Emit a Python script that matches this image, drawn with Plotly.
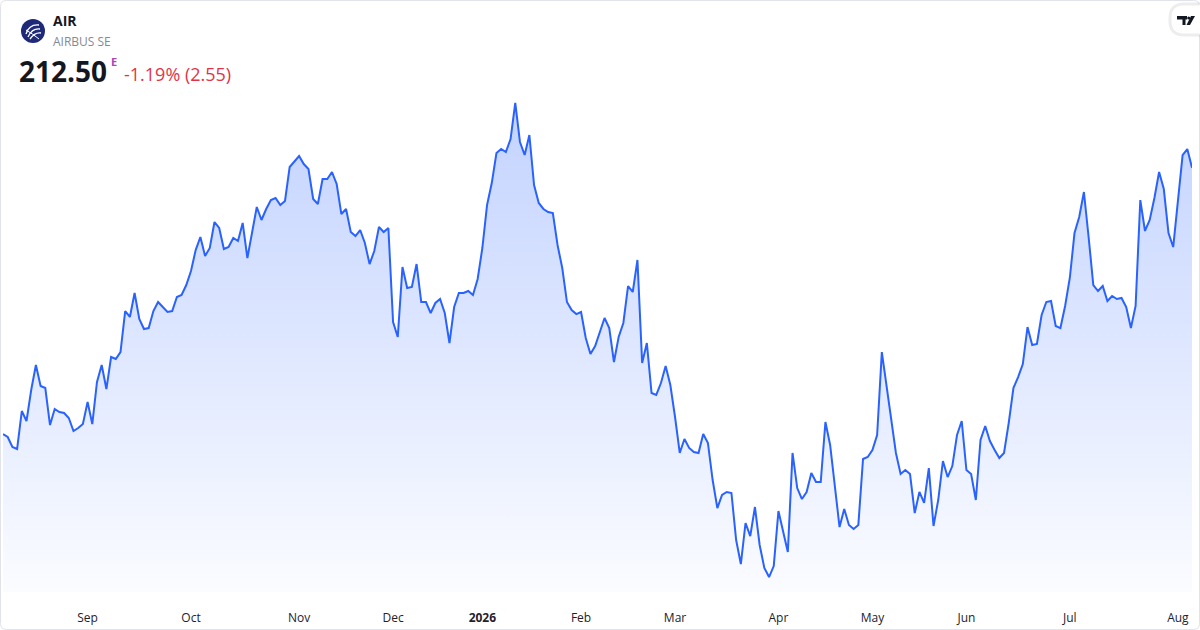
import pandas as pd
import plotly.graph_objects as go

# AIR (Airbus SE) daily closes, Euronext trading days 6 Aug 2025 - 6 Aug 2026
start_date = "2025-08-06"
end_date = "2026-08-06"
holidays = ["2025-12-24", "2025-12-25", "2025-12-26", "2025-12-31",
            "2026-01-01", "2026-04-03", "2026-04-06", "2026-05-01"]

prices = [
    176.18, 175.77, 174.40, 174.13, 179.31, 177.95, 182.18, 185.59, 182.72, 182.45,
    177.40, 179.59, 179.18, 179.04, 178.36, 176.59, 177.00, 177.54, 180.54, 177.54,
    183.27, 185.59, 182.31, 186.68, 186.41, 187.36, 192.95, 192.14, 195.41, 191.86,
    190.50, 190.63, 192.95, 194.18, 193.50, 192.82, 192.95, 194.86, 195.14, 196.50,
    198.41, 201.27, 203.05, 200.46, 201.55, 205.09, 204.28, 201.41, 201.68, 202.91,
    202.50, 204.96, 200.18, 203.46, 207.14, 205.37, 206.87, 208.09, 208.37, 207.41,
    207.96, 212.60, 213.41, 214.10, 213.00, 212.32, 208.23, 207.55, 210.96, 210.96,
    211.91, 210.28, 206.18, 206.87, 203.73, 203.18, 204.00, 202.23, 199.36, 201.14,
    204.41, 203.73, 204.28, 191.45, 189.41, 198.96, 196.09, 196.23, 199.36, 194.18,
    194.18, 192.68, 194.05, 194.59, 192.68, 188.59, 193.50, 195.41, 195.41, 195.68,
    195.14, 197.32, 201.55, 207.41, 210.41, 214.50, 215.05, 214.64, 216.41, 221.33,
    216.01, 214.23, 216.96, 210.14, 207.69, 206.87, 206.46, 206.32, 201.96, 198.82,
    194.18, 193.09, 192.54, 192.82, 189.27, 187.09, 188.18, 190.09, 192.00, 190.63,
    186.00, 189.41, 191.32, 196.36, 195.55, 199.91, 185.86, 188.59, 181.77, 181.50,
    183.13, 185.45, 182.86, 178.50, 173.59, 175.49, 174.27, 173.72, 173.59, 176.18,
    174.95, 169.90, 166.08, 167.86, 168.27, 168.13, 161.72, 158.44, 164.04, 162.26,
    166.22, 161.04, 157.90, 156.67, 158.17, 165.67, 162.81, 160.08, 173.59, 168.81,
    167.31, 168.27, 170.86, 169.63, 169.63, 177.81, 174.68, 168.95, 163.49, 165.95,
    163.76, 163.22, 163.76, 172.77, 173.04, 173.99, 176.04, 187.36, 182.59, 178.36,
    173.59, 170.72, 171.27, 170.72, 165.40, 168.27, 166.77, 171.54, 163.63, 167.17,
    172.49, 170.31, 171.81, 176.04, 177.95, 171.27, 170.72, 167.17, 175.36, 177.27,
    175.22, 173.99, 172.90, 173.59, 177.68, 182.45, 183.95, 185.72, 190.77, 188.32,
    188.45, 192.41, 194.18, 194.32, 190.91, 190.63, 193.64, 197.46, 203.59, 205.78,
    209.19, 203.05, 196.50, 195.68, 196.36, 194.32, 195.00, 194.59, 194.73, 193.50,
    190.63, 193.64, 208.09, 203.87, 205.37, 208.37, 211.91, 209.59, 203.59, 201.68,
    208.09, 214.23, 215.05, 212.50,
]

tick_labels = ["Sep", "Oct", "Nov", "Dec", "<b>2026</b>", "Feb",
               "Mar", "Apr", "May", "Jun", "Jul", "Aug"]

ticker = "AIR"
company = "AIRBUS SE"
last_price = "212.50"
change_text = "-1.19% (2.55)"

dates = [d.strftime("%Y-%m-%d") for d in pd.bdate_range(start_date, end_date)]
dates = [d for d in dates if d not in holidays]
assert len(dates) == len(prices)

# first trading day of every month (skip the partial starting month)
month_starts = []
seen = set()
for d in dates:
    if d[:7] not in seen:
        seen.add(d[:7])
        month_starts.append(d)
month_starts = month_starts[1:]

# layout geometry (pixels)
W, H = 1200, 630
ML, MR, MT, MB = 3, 8, 90, 38
PW, PH = W - ML - MR, H - MT - MB
eur_per_px = 0.1364
y_top = 223.10
y_bot = y_top - PH * eur_per_px


def fx(x):
    return (x - ML) / PW


def fy(y):
    return 1 - (y - MT) / PH


def P(x, y):
    return f"{fx(x):.5f},{fy(y):.5f}"


def rrect(x0, y0, x1, y1, r):
    return (f"M{P(x0 + r, y0)} L{P(x1 - r, y0)} Q{P(x1, y0)} {P(x1, y0 + r)} "
            f"L{P(x1, y1 - r)} Q{P(x1, y1)} {P(x1 - r, y1)} L{P(x0 + r, y1)} "
            f"Q{P(x0, y1)} {P(x0, y1 - r)} L{P(x0, y0 + r)} Q{P(x0, y0)} {P(x0 + r, y0)} Z")


FONT = "Open Sans"

fig = go.Figure()
fig.add_trace(go.Scatter(
    x=dates, y=prices, mode="lines",
    line=dict(color="#2962FF", width=2),
    fill="tozeroy",
    fillgradient=dict(type="vertical",
                      colorscale=[[0, "rgba(41,98,255,0.02)"], [1, "rgba(41,98,255,0.28)"]],
                      start=y_bot, stop=max(prices)),
    hoverinfo="skip",
))

fig.update_layout(
    width=W, height=H,
    margin=dict(l=ML, r=MR, t=MT, b=MB),
    paper_bgcolor="white", plot_bgcolor="white",
    showlegend=False,
    font=dict(family=FONT, color="#131722"),
    xaxis=dict(type="category", range=[0, len(dates) - 1],
               tickvals=month_starts, ticktext=tick_labels,
               showgrid=False, zeroline=False, showline=False, ticks="",
               tickfont=dict(size=12, color="#1e222d"), ticklabelstandoff=17),
    yaxis=dict(range=[y_bot, y_top], visible=False, showgrid=False, zeroline=False),
)

# header text
ann = [
    dict(x=fx(51), y=fy(20), text=f"<b>{ticker}</b>", font=dict(size=14, color="#131722")),
    dict(x=fx(51), y=fy(41), text=company, font=dict(size=12, color="#868993")),
    dict(x=fx(17), y=fy(71), text=f"<b>{last_price}</b>", font=dict(size=28, color="#131722")),
    dict(x=fx(108.5), y=fy(61), text="<b>E</b>", font=dict(size=11, color="#ab47bc")),
    dict(x=fx(122), y=fy(74), text=change_text, font=dict(size=18, color="#e0334a")),
]
for a in ann:
    fig.add_annotation(xref="paper", yref="paper", xanchor="left", yanchor="middle",
                       showarrow=False, **a)

shapes = [
    # outer card border
    dict(type="path", path=rrect(0.5, 0.5, W - 0.5, H - 0.5, 6),
         line=dict(color="#e0e3eb", width=1)),
    # logo disc
    dict(type="circle", x0=fx(21), x1=fx(45), y0=fy(43), y1=fy(19),
         fillcolor="#1e2a78", line=dict(width=0)),
    dict(type="path", path=f"M{P(26, 34)} Q{P(29, 24)} {P(39, 25)}",
         line=dict(color="white", width=1.3)),
    dict(type="path", path=f"M{P(28, 37)} Q{P(32, 28)} {P(40, 29)}",
         line=dict(color="white", width=1.3)),
    dict(type="path", path=f"M{P(30, 39)} Q{P(35, 32)} {P(41, 33)}",
         line=dict(color="white", width=1.3)),
    dict(type="path", path=f"M{P(26, 30)} Q{P(33, 34)} {P(39, 39)}",
         line=dict(color="white", width=1)),
    # TradingView badge
    dict(type="path", path=rrect(1170, 4, 1212, 35, 14),
         fillcolor="white", line=dict(color="rgba(0,0,0,0.07)", width=3)),
    dict(type="path", path=f"M{P(1177, 16)} L{P(1187, 16)} L{P(1187, 19.5)} L{P(1185.5, 19.5)} "
                           f"L{P(1185.5, 25)} L{P(1182.5, 25)} L{P(1182.5, 19.5)} L{P(1177, 19.5)} Z",
         fillcolor="#131722", line=dict(width=0)),
    dict(type="circle", x0=fx(1187.2), x1=fx(1190.2), y0=fy(19.5), y1=fy(16.5),
         fillcolor="#131722", line=dict(width=0)),
    dict(type="path", path=f"M{P(1191, 16)} L{P(1195, 16)} L{P(1190, 25)} L{P(1186.5, 25)} Z",
         fillcolor="#131722", line=dict(width=0)),
]
for s in shapes:
    fig.add_shape(xref="paper", yref="paper", layer="above", **s)

# the page body has a default 8px margin; drop it so the figure sits at 0,0
fig.write_html("out.html", config={"displayModeBar": False},
               post_script="document.body.style.margin='0px';")
